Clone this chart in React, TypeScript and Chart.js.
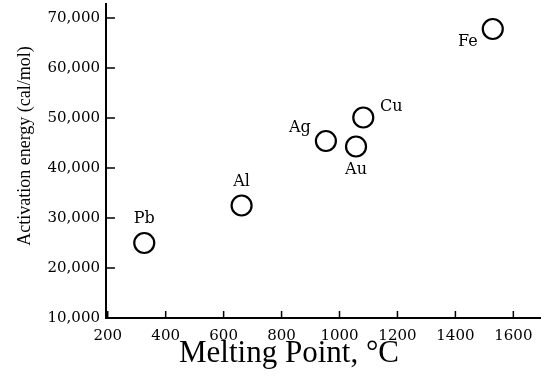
import React, { useEffect, useRef } from "react";
import { Chart, registerables } from "chart.js";

Chart.register(...registerables);

const metals = ["Pb", "Al", "Ag", "Au", "Cu", "Fe"];
const meltingPoints = [326, 662, 953, 1057, 1082, 1529];
const activationEnergies = [25000, 32500, 45400, 44300, 50100, 67800];
const labelOffsetsX = [0, 0, -26, 0, 28, -25];
const labelOffsetsY = [-24, -24, -13, 23, -11, 13];
const xTicks = [200, 400, 600, 800, 1000, 1200, 1400, 1600];
const yTicks = [10000, 20000, 30000, 40000, 50000, 60000, 70000];
const xTitle = "Melting Point, °C";
const yTitle = "Activation energy (cal/mol)";

const decorPlugin = {
  id: "decor",
  afterDraw(chart: any) {
    const ctx = chart.ctx;
    const area = chart.chartArea;
    const xs = chart.scales.x;
    const ys = chart.scales.y;
    ctx.save();
    ctx.strokeStyle = "#000";
    ctx.lineWidth = 1.5;
    ctx.beginPath();
    yTicks.forEach((v) => {
      const py = ys.getPixelForValue(v);
      ctx.moveTo(area.left, py);
      ctx.lineTo(area.left + 9, py);
    });
    xTicks.forEach((v) => {
      const px = xs.getPixelForValue(v);
      ctx.moveTo(px, area.bottom);
      ctx.lineTo(px, area.bottom - 7);
    });
    ctx.stroke();
    const meta = chart.getDatasetMeta(0);
    ctx.fillStyle = "#000";
    ctx.font = "16px 'DejaVu Serif'";
    ctx.textAlign = "center";
    ctx.textBaseline = "middle";
    meta.data.forEach((pt: any, i: number) => {
      ctx.fillText(metals[i], pt.x + labelOffsetsX[i], pt.y + labelOffsetsY[i]);
    });
    ctx.font = "31px 'Liberation Serif'";
    ctx.fillText(xTitle, area.left + 183, area.bottom + 36);
    ctx.save();
    ctx.translate(25, area.top + 142);
    ctx.rotate(-Math.PI / 2);
    ctx.font = "18px 'Liberation Serif'";
    ctx.fillText(yTitle, 0, 0);
    ctx.restore();
    ctx.restore();
  },
};

const zeroPad = (s: any) => {
  s.paddingLeft = 0;
  s.paddingRight = 0;
  s.paddingTop = 0;
  s.paddingBottom = 0;
};

export default function App() {
  const ref = useRef<HTMLCanvasElement>(null);
  useEffect(() => {
    document.body.style.margin = "0";
    const canvas = ref.current;
    if (!canvas) return;
    const chart = new Chart(canvas, {
      type: "scatter",
      data: {
        datasets: [
          {
            label: "Metals",
            data: meltingPoints.map((x, i) => ({ x, y: activationEnergies[i] })),
            pointRadius: 10,
            pointHoverRadius: 10,
            borderWidth: 2.2,
            borderColor: "#000",
            backgroundColor: "rgba(0,0,0,0)",
          },
        ],
      },
      options: {
        responsive: false,
        animation: false,
        layout: { autoPadding: false, padding: { top: 4, right: 1, left: 0, bottom: 0 } },
        plugins: {
          legend: { display: false },
          tooltip: { enabled: false },
        },
        scales: {
          x: {
            type: "linear",
            min: 194,
            max: 1692,
            afterBuildTicks: (s: any) => {
              s.ticks = xTicks.map((v) => ({ value: v }));
            },
            afterFit: (s: any) => {
              s.height = 67;
              zeroPad(s);
            },
            grid: { display: false, drawTicks: false },
            border: { display: true, color: "#000", width: 2 },
            ticks: {
              color: "#000",
              padding: 9,
              font: { family: "'DejaVu Serif'", size: 15 },
              maxRotation: 0,
              autoSkip: false,
              callback: (v: any) => String(v),
            },
          },
          y: {
            type: "linear",
            min: 10000,
            max: 72800,
            afterBuildTicks: (s: any) => {
              s.ticks = yTicks.map((v) => ({ value: v }));
            },
            afterFit: (s: any) => {
              s.width = 106;
              zeroPad(s);
            },
            grid: { display: false, drawTicks: false },
            border: { display: true, color: "#000", width: 2 },
            ticks: {
              color: "#000",
              padding: 6,
              font: { family: "'DejaVu Serif'", size: 15 },
              autoSkip: false,
              callback: (v: any) => Number(v).toLocaleString("en-US"),
            },
          },
        },
      },
      plugins: [decorPlugin],
    });
    return () => chart.destroy();
  }, []);
  return (
    <div style={{ position: "absolute", left: 0, top: 0, width: 541, height: 385, background: "#fff" }}>
      <canvas ref={ref} width={541} height={385} style={{ display: "block" }} />
    </div>
  );
}
